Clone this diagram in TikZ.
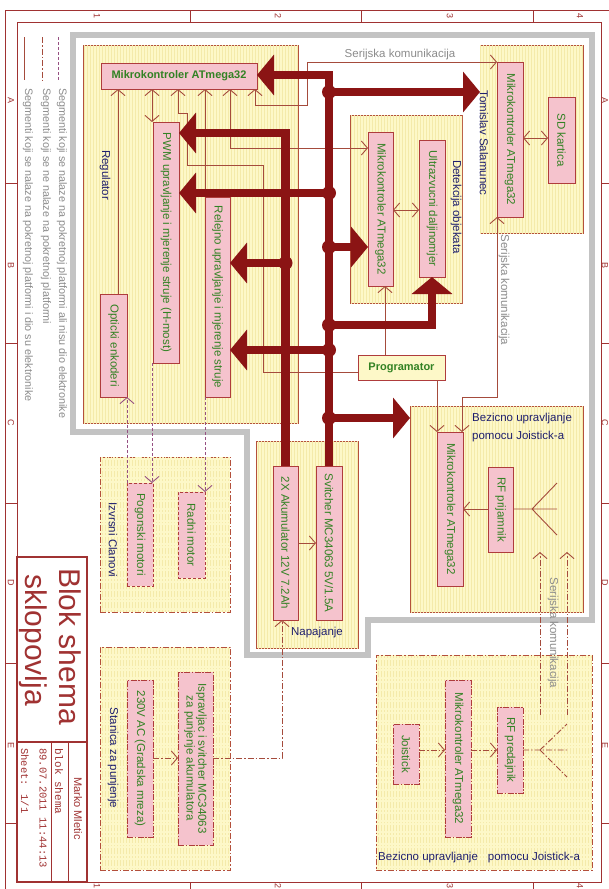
\documentclass[tikz,border=0pt]{standalone}
\usepackage{fontspec}
\setmainfont{Liberation Sans}
\newfontfamily\monof{Liberation Mono}
\usetikzlibrary{arrows.meta,patterns}
\definecolor{busc}{RGB}{139,20,20}
\definecolor{blkc}{RGB}{180,80,60}
\definecolor{yelc}{RGB}{253,248,200}
\definecolor{stripec}{RGB}{244,234,170}
\definecolor{pinkc}{RGB}{245,195,205}
\definecolor{boxc}{RGB}{175,60,60}
\definecolor{grnc}{RGB}{50,130,35}
\definecolor{bluc}{RGB}{30,30,110}
\definecolor{grayt}{RGB}{140,140,140}
\definecolor{linec}{RGB}{165,75,60}
\definecolor{purc}{RGB}{150,80,130}
\definecolor{frmc}{RGB}{160,50,50}
\definecolor{grayb}{RGB}{195,195,195}
\newcommand\bx[6]{\node[#1, minimum width={(#5-#3)*1pt}, minimum height={(#6-#4)*1pt}] (#2) at ({(#3+#5)/2},{(#4+#6)/2}) {};}
\tikzset{
 blk/.style={draw=blkc, fill=yelc, postaction={pattern=vertical lines, pattern color=stripec}, line width=0.8pt, inner sep=0pt, outer sep=0pt},
 blkd/.style={blk, dash pattern=on 6pt off 2pt on 1.5pt off 2pt},
 bxs/.style={draw=boxc, fill=pinkc, line width=1pt, inner sep=0pt, outer sep=0pt},
 bxd/.style={bxs, dash pattern=on 3pt off 2pt},
 bxdd/.style={bxs, dash pattern=on 6pt off 1.5pt on 1.5pt off 1.5pt},
 prg/.style={draw=boxc, fill=yelc, line width=1pt, inner sep=0pt, outer sep=0pt},
 gt/.style={text=grnc, font=\fontsize{11.5}{9.5}\selectfont, align=center, inner sep=0pt},
 gtr/.style={gt, rotate=-90},
 gtb/.style={text=grnc, font=\fontsize{11}{12}\selectfont\bfseries, inner sep=0pt},
 lbl/.style={text=bluc, font=\fontsize{11.5}{13}\selectfont, inner sep=0pt},
 lblr/.style={lbl, rotate=-90},
 ser/.style={text=grayt, font=\fontsize{11.5}{13}\selectfont, inner sep=0pt},
 leg/.style={text=grayt, font=\fontsize{10.8}{12}\selectfont, inner sep=0pt, rotate=-90, anchor=west},
 thn/.style={draw=linec, line width=0.9pt},
 dd/.style={dash pattern=on 6pt off 2pt on 1.5pt off 2pt},
 pd/.style={draw=purc, line width=0.9pt, dash pattern=on 3pt off 2pt},
 bus/.style={draw=busc, line width=8.5pt},
 bar/.style={-{Triangle[length=17pt,width=40pt]}},
 ea/.style={-{Straight Barb[length=6pt,width=14pt]}},
 sa/.style={{Straight Barb[length=6pt,width=14pt]}-},
 ba/.style={{Straight Barb[length=6pt,width=14pt]}-{Straight Barb[length=6pt,width=14pt]}},
 frm/.style={draw=frmc, line width=1pt},
 frtx/.style={text=frmc, font=\fontsize{9}{10}\selectfont, rotate=-90, inner sep=0pt},
 ttl/.style={text=frmc, inner sep=0pt, rotate=-90, anchor=west},
}
\begin{document}
\begin{tikzpicture}[x=1pt,y=-1pt]
\path[use as bounding box, fill=white] (0,0) rectangle (609,889);
% frame
\draw[frm] (5,10) rectangle (613,894);
\draw[frm] (17,22) rectangle (601,882);
\foreach \x in {190,361,533} {\draw[frm] (\x,10) -- (\x,22); \draw[frm] (\x,882) -- (\x,894);}
\foreach \y in {183,343,503,663,823} {\draw[frm] (5,\y) -- (17,\y); \draw[frm] (601,\y) -- (613,\y);}
\foreach \n/\x in {1/97,2/278,3/450,4/580} {\node[frtx] at (\x,16) {\n}; \node[frtx] at (\x,885.5) {\n};}
\foreach \l/\y in {A/100,B/265,C/423,D/583,E/745} {\node[frtx] at (11,\y) {\l}; \node[frtx] at (605,\y) {\l};}
% title block
\draw[draw=frmc, line width=2pt] (17,557) rectangle (87,882);
\draw[draw=frmc, line width=2pt] (17,742) -- (87,742);
\draw[frm] (68,742) -- (68,882);
\draw[frm] (51,742) -- (51,882);
\node[ttl, font=\fontsize{30}{30}\selectfont] at (70,568) {Blok shema};
\node[ttl, font=\fontsize{30}{30}\selectfont] at (33,574) {sklopovlja};
\node[ttl, font=\fontsize{11}{12}\selectfont] at (78,777) {Marko Mletic};
\node[ttl, font=\monof\fontsize{11}{12}\selectfont] at (59,748) {blok shema};
\node[ttl, font=\monof\fontsize{10.5}{12}\selectfont] at (43,748) {89.07.2011 11:44:13};
\node[ttl, font=\monof\fontsize{10.5}{12}\selectfont] at (25,748) {Sheet: 1/1};
% legend
\draw[pd] (58,37) -- (58,80);
\draw[thn, dd] (42,37) -- (42,80);
\draw[thn] (24,37) -- (24,80);
\node[leg] at (62,88) {Segmenti koji se nalaze na pokretnoj platformi ali nisu dio elektronike};
\node[leg] at (46,88) {Segmenti koji se ne nalaze na pokretnoj platformi};
\node[leg] at (28,88) {Segmenti koji se nalaze na pokretnoj platformi i dio su elektronike};
% platform outline
\draw[grayb, line width=6pt] (73,35) -- (592,35) -- (592,620) -- (368,620) -- (368,655) -- (247,655) -- (247,432) -- (73,432) -- cycle;
% blocks
\bx{blk}{reg}{83}{45}{298}{423}
\bx{blk}{det}{350}{115}{462}{303}
\bx{blk}{sdb}{480}{45}{583}{233}
\bx{blk}{bez}{410}{406}{583}{612}
\bx{blk}{nap}{256}{441}{358}{648}
\bx{blkd}{izv}{100}{457}{230}{612}
\bx{blkd}{sta}{100}{647}{230}{870}
\bx{blkd}{jb}{376}{655}{592}{870}
% boxes
\bx{bxs}{regmc}{101}{63}{257}{89}
\bx{bxs}{pwm}{153}{122}{179}{363}
\bx{bxs}{rel}{205}{197}{230}{397}
\bx{bxs}{opt}{100}{294}{127}{397}
\bx{bxs}{detmc}{368}{132}{393}{286}
\bx{bxs}{ultra}{419}{140}{445}{277}
\bx{bxs}{sdmc}{497}{62}{523}{217}
\bx{bxs}{sd}{548}{97}{575}{183}
\bx{bxs}{bezmc}{437}{432}{463}{586}
\bx{bxs}{rfrx}{488}{467}{513}{552}
\bx{bxs}{aku}{273}{466}{298}{620}
\bx{bxs}{svit}{316}{466}{342}{620}
\bx{bxd}{pog}{127}{483}{153}{586}
\bx{bxd}{radni}{178}{492}{205}{578}
\bx{bxdd}{ac}{127}{680}{153}{837}
\bx{bxdd}{ispr}{178}{672}{213}{845}
\bx{bxdd}{joy}{393}{724}{419}{784}
\bx{bxdd}{txmc}{445}{680}{471}{837}
\bx{bxdd}{rftx}{497}{707}{523}{793}
\bx{prg}{prog}{358}{355}{445}{380}
% box texts
\node[gtb] at (regmc) {Mikrokontroler ATmega32};
\node[gtb] at (prog) {Programator};
\node[gtr] at (pwm) {PWM upravljanje i mjerenje struje (H-most)};
\node[gtr] at (rel) {Relejno upravljanje i mjerenje struje};
\node[gtr] at (opt) {Opticki enkoderi};
\node[gtr] at (detmc) {Mikrokontroler ATmega32};
\node[gtr] at (ultra) {Ultrazvucni daljinomjer};
\node[gtr] at (sdmc) {Mikrokontroler ATmega32};
\node[gtr] at (sd) {SD kartica};
\node[gtr] at (bezmc) {Mikrokontroler ATmega32};
\node[gtr] at (rfrx) {RF prijamnik};
\node[gtr] at (aku) {2X Akumulator 12V 7.2Ah};
\node[gtr] at (svit) {Svitcher MC34063 5V/1.5A};
\node[gtr] at (pog) {Pogonski motori};
\node[gtr] at (radni) {Radni motor};
\node[gtr] at (ac) {230V AC (Gradska mreza)};
\node[gtr] at (ispr) {Ispravljac i svitcher MC34063\\za punjenje akumulatora};
\node[gtr] at (joy) {Joistick};
\node[gtr] at (txmc) {Mikrokontroler ATmega32};
\node[gtr] at (rftx) {RF predajnik};
% block labels
\node[lblr] at (105,175) {Regulator};
\node[lblr] at (456,207) {Detekcija objekata};
\node[lblr] at (484,143) {Tomislav Salamunec};
\node[lbl, anchor=west] at (472,419) {Bezicno upravljanje};
\node[lbl, anchor=west] at (472,437) {pomocu Joistick-a};
\node[lbl] at (317,633) {Napajanje};
\node[lblr] at (113,540) {Izvrsni Clanovi};
\node[lblr] at (113,758) {Stanica za punjenje};
\node[lbl, anchor=west] at (378,858) {Bezicno upravljanje\hspace{10pt}pomocu Joistick-a};
\node[ser] at (400,55) {Serijska komunikacija};
\node[ser, rotate=-90] at (504,290) {Serijska komunikacija};
\node[ser, rotate=-90] at (553,633) {Serijska komunikacija};
% thin connectors (platform electronics)
\draw[thn, sa] (118,0 |- regmc.south) -- (118,0 |- opt.north);
\draw[thn, ba] (152,0 |- regmc.south) -- (152,0 |- pwm.north);
\draw[thn, sa] (178,0 |- regmc.south) -- (178,113) -- (187,113) -- (187,165) -- (263,165) -- (263,372) -- (prog.west |- 0,372);
\draw[thn, ba] (205,0 |- regmc.south) -- (205,0 |- rel.north);
\draw[thn, ba] (230,0 |- regmc.south) -- (230,148) -- (detmc.west |- 0,148);
\draw[thn, ba] (255,0 |- regmc.south) -- (255,105) -- (307,105) -- (307,62) -- (sdmc.north west);
\draw[thn, ba] (detmc.east |- 0,210) -- (ultra.west |- 0,210);
\draw[thn, ba] (sdmc.east |- 0,138) -- (sd.west |- 0,138);
\draw[thn, ea] (385,0 |- prog.north) -- (385,0 |- detmc.south);
\draw[thn, ea] (437,0 |- prog.south) -- (437,0 |- bezmc.north);
\draw[thn, ba] (sdmc.south west) -- (497,397) -- (462,397) -- (462,0 |- bezmc.north);
\draw[thn, ea] (rfrx.west |- 0,509) -- (bezmc.east |- 0,509);
\draw[thn] (rfrx.east |- 0,509) -- (557,509) (532,509) -- (557,483) (532,509) -- (557,535);
\draw[thn, ea] (aku.east |- 0,543) -- (svit.west |- 0,543);
% off-platform connectors
\draw[thn, dd, ea] (ispr.east |- 0,758) -- (282,758) -- (282,0 |- aku.south);
\draw[thn, dd, ea] (ac.east |- 0,758) -- (ispr.west |- 0,758);
\draw[thn, dd, ea] (joy.east |- 0,750) -- (txmc.west |- 0,750);
\draw[thn, dd, ea] (txmc.east |- 0,750) -- (rftx.west |- 0,750);
\draw[thn, dd] (rftx.east |- 0,750) -- (567,750) (540,750) -- (567,724) (540,750) -- (567,777);
\draw[thn, dd, ea] (540,715) -- (540,0 |- rfrx.south);
\draw[thn, dd, ea] (567,715) -- (567,0 |- rfrx.south);
% mechanical links
\draw[pd, ea] (127,0 |- pog.north) -- (127,0 |- opt.south);
\draw[pd, ea] (152,0 |- pwm.south) -- (152,0 |- pog.north);
\draw[pd, ea] (205,0 |- rel.south) -- (205,0 |- radni.north);
% power bus
\draw[bus, bar] (aku.north) |- (pwm.east |- 0,133);
\draw[bus, bar] (aku.north |- 0,263) -- (rel.east |- 0,263);
\draw[bus, bar] (svit.north) |- (regmc.east |- 0,75);
\draw[bus, bar] (svit.north |- 0,92) -- (sdb.west |- 0,92);
\draw[bus, bar] (svit.north |- 0,193) -- (pwm.east |- 0,193);
\draw[bus, bar] (svit.north |- 0,247) -- (detmc.west |- 0,247);
\draw[bus, bar] (svit.north |- 0,325) -| (432,0 |- ultra.south);
\draw[bus, bar] (svit.north |- 0,350) -- (rel.east |- 0,350);
\draw[bus, bar] (svit.north |- 0,418) -- (bez.west |- 0,418);
\foreach \y in {92,193,247,325,350,418} {\fill[busc] (svit.north |- 0,\y) circle (7pt);}
\fill[busc] (aku.north |- 0,263) circle (7pt);
\end{tikzpicture}
\end{document}
